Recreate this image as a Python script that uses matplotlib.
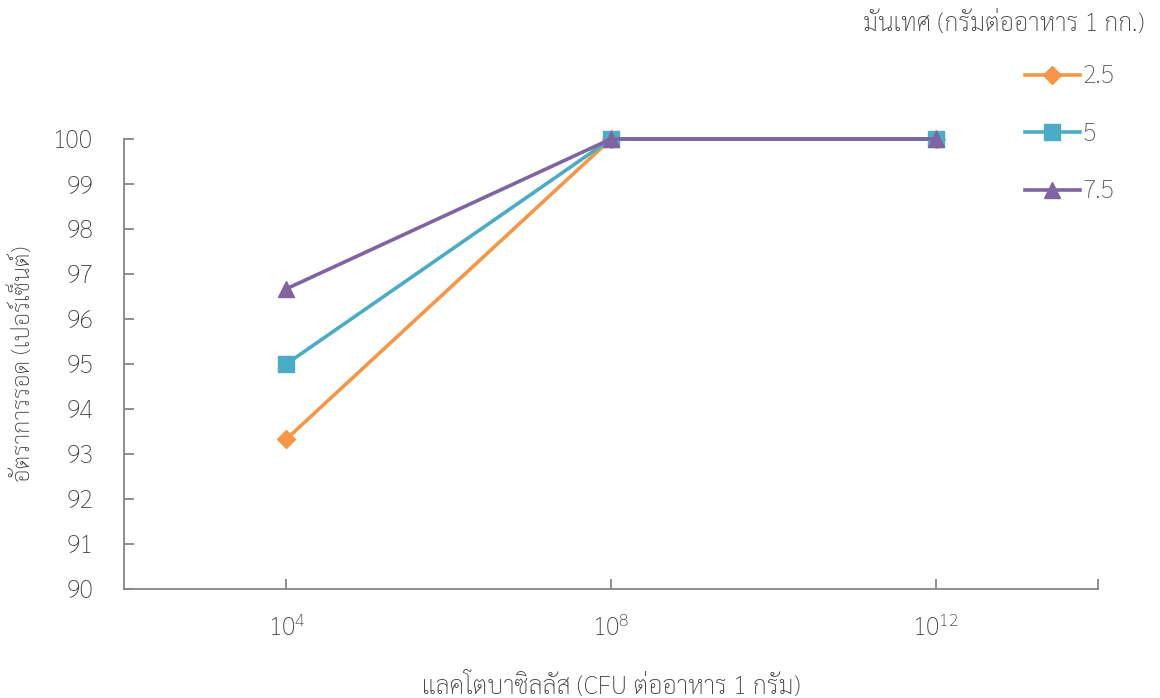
import matplotlib
matplotlib.use('Agg')
import matplotlib.pyplot as plt
import numpy as np

plt.rcParams['font.family'] = ['Sarabun', 'DejaVu Sans']
plt.rcParams['font.weight'] = 'light'
plt.rcParams['axes.labelweight'] = 'light'
plt.rcParams['mathtext.fontset'] = 'custom'
plt.rcParams['mathtext.rm'] = 'Sarabun:light'

# survival rate (%) per lactobacillus dose, one series per sweet potato level
doses = [r'$\mathregular{10^{4}}$', r'$\mathregular{10^{8}}$', r'$\mathregular{10^{12}}$']
levels = ['2.5', '5', '7.5']
survival_25 = [93.33, 100, 100]
survival_5 = [95.0, 100, 100]
survival_75 = [96.67, 100, 100]

colors = ['#F79646', '#4BACC6', '#8064A2']
markers = ['D', 's', '^']
msizes = [9, 11, 12]
axis_grey = '#868686'
text_grey = '#404040'

fig = plt.figure(figsize=(11.6, 6.98), dpi=100)
ax = fig.add_axes([0.1069, 0.1562, 0.8397, 0.6447])

x = np.arange(len(doses))
for vals, lab, c, m, ms in zip([survival_25, survival_5, survival_75], levels, colors, markers, msizes):
    ax.plot(x, vals, color=c, lw=2.6, marker=m, ms=ms, label=lab, clip_on=False)

ax.set_xlim(-0.5, 2.5)
ax.set_ylim(90, 100)
ax.set_yticks(np.arange(90, 101, 1))
ax.set_xticks(list(x) + [2.5])
ax.set_xticklabels(doses + [''])

for s in ['top', 'right']:
    ax.spines[s].set_visible(False)
for s in ['left', 'bottom']:
    ax.spines[s].set_color(axis_grey)
    ax.spines[s].set_linewidth(1.3)

ax.tick_params(axis='both', direction='in', length=7, width=1.3, color=axis_grey,
               labelcolor=text_grey)
ax.tick_params(axis='x', pad=20, labelsize=18)
ax.tick_params(axis='y', pad=22, labelsize=18)

ax.set_xlabel('แลคโตบาซิลลัส (CFU ต่ออาหาร 1 กรัม)', fontsize=18, color=text_grey, labelpad=22)
ax.set_ylabel('อัตราการรอด (เปอร์เซ็นต์)', fontsize=17, color=text_grey, labelpad=13)

leg = fig.legend(loc='upper left', bbox_to_anchor=(0.864, 0.94), frameon=False,
                 fontsize=18, labelspacing=1.3, handlelength=2.2, handletextpad=0.1,
                 labelcolor='#595959')
fig.text(0.865, 0.965, 'มันเทศ (กรัมต่ออาหาร 1 กก.)', fontsize=18, color=text_grey,
         ha='center', va='center')

fig.savefig('out.png', dpi=100)
